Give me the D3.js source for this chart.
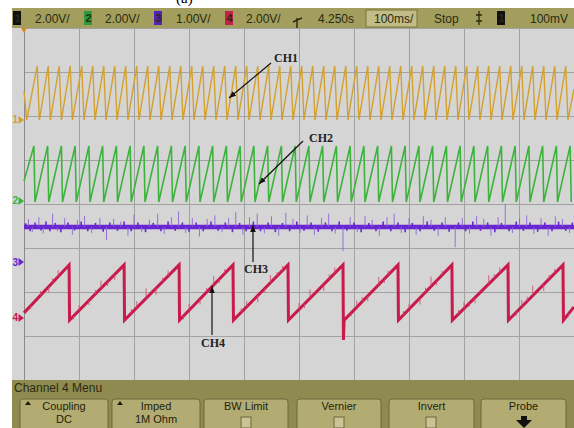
<html>
  <head>
    <script src="https://d3js.org/d3.v7.min.js"></script>
    <style>
      body { margin: 0; background: #ffffff; }
      .hdr { font-family: "Liberation Sans", Arial, sans-serif; font-size: 12px; fill: #2a2a10; }
      .btn { font-family: "Liberation Sans", Arial, sans-serif; font-size: 11px; fill: #1e1e08; text-anchor: middle; }
      .ann { font-family: "Liberation Serif", "DejaVu Serif", serif; font-size: 12px; font-weight: bold; fill: #222; }
    </style>
  </head>
  <body>
    <script>
        // ---- data ----
        // time in ms (100 ms/div, 10 div), levels in volts
        var ch1Peaks = [24, 44, 64, 84, 105, 125, 145, 165, 185, 205, 225, 245, 265, 285, 305, 325, 345, 365,
            385, 405, 425, 445, 465, 485, 505, 525, 545, 565, 585, 605, 625, 645, 665, 685, 705, 725, 745,
            765, 785, 805, 825, 845, 865, 885, 905, 925, 945, 965, 985];
        var ch1Levels = { low: 0.0, high: 2.45, start: 1.3, firstLow: 5, end: 1.4 };

        var ch2Peaks = [18, 43, 68, 93, 118, 143, 168, 193, 218, 243, 268, 293, 318, 343, 368, 393, 418, 443,
            468, 493, 518, 543, 568, 593, 618, 643, 668, 693, 718, 743, 768, 793, 818, 843, 868, 893, 918,
            943, 968, 993];
        var ch2Levels = { low: -0.05, high: 2.5, start: 0.9 };

        var ch3Level = 0.8;
        var ch3Spikes = [[8, 0.18], [15, -0.12], [27, 0.22], [35, -0.15], [52, 0.3], [61, -0.1], [74, 0.2],
            [88, -0.18], [97, 0.15], [110, 0.25], [123, -0.14], [138, 0.2], [150, -0.3], [163, 0.18],
            [176, 0.12], [189, -0.2], [200, 0.28], [214, -0.12], [228, 0.16], [243, 0.3], [255, -0.16],
            [268, 0.22], [281, 0.35], [294, -0.14], [306, 0.2], [319, -0.22], [333, 0.18], [347, 0.26],
            [360, -0.12], [372, 0.2], [385, 0.34], [398, -0.18], [410, 0.22], [424, 0.3], [437, -0.15],
            [450, 0.24], [463, -0.2], [476, 0.32], [489, 0.18], [502, -0.14], [515, 0.26], [528, -0.18],
            [541, 0.2], [554, 0.3], [566, -0.15], [580, -0.55], [593, 0.22], [606, -0.12], [620, 0.25],
            [633, 0.16], [646, -0.2], [660, 0.22], [673, 0.3], [686, -0.14], [700, 0.2], [713, -0.18],
            [726, 0.24], [740, 0.16], [753, -0.2], [766, 0.22], [784, -0.46], [797, 0.2], [810, -0.15],
            [823, 0.25], [836, 0.18], [849, -0.2], [862, 0.22], [875, 0.52], [888, -0.14], [901, 0.2],
            [914, 0.26], [927, -0.16], [940, 0.2], [953, -0.2], [966, 0.24], [979, 0.18], [992, -0.14]];
        // the thin fuzz that makes the ch3 band look ragged
        var ch3Fuzz = [[3, 0.08], [11, -0.1], [20, 0.1], [31, -0.08], [40, 0.12], [47, -0.1], [57, 0.09],
            [67, -0.12], [80, 0.1], [92, -0.08], [104, 0.12], [116, -0.1], [130, 0.09], [144, -0.11],
            [156, 0.1], [170, -0.09], [182, 0.12], [195, -0.1], [207, 0.1], [221, -0.12], [235, 0.09],
            [249, -0.1], [262, 0.12], [275, -0.09], [288, 0.1], [300, -0.11], [313, 0.1], [326, -0.1],
            [340, 0.12], [353, -0.09], [366, 0.1], [379, -0.12], [392, 0.09], [404, -0.1], [417, 0.12],
            [430, -0.1], [444, 0.1], [457, -0.12], [470, 0.09], [483, -0.1], [496, 0.12], [509, -0.09],
            [522, 0.1], [535, -0.11], [548, 0.1], [560, -0.1], [573, 0.12], [587, -0.09], [600, 0.1],
            [613, -0.12], [627, 0.09], [640, -0.1], [653, 0.12], [667, -0.1], [680, 0.1], [693, -0.12],
            [706, 0.09], [720, -0.1], [733, 0.12], [746, -0.09], [760, 0.1], [773, -0.11], [790, 0.1],
            [803, -0.1], [816, 0.12], [830, -0.09], [843, 0.1], [856, -0.12], [868, 0.09], [882, -0.1],
            [895, 0.12], [908, -0.09], [920, 0.1], [934, -0.11], [947, 0.1], [960, -0.1], [972, 0.12],
            [985, -0.09], [997, 0.1]];

        var ch4Drops = [82, 182, 282, 380, 480, 580, 680, 778, 880, 980];
        var ch4Lows = [-0.1, -0.1, -0.1, -0.1, -0.1, -1.0, -0.1, -0.1, -0.1, -0.1];
        var ch4Levels = { high: 2.41, start: 0.23, end: 0.5 };
        var ch4Spikes = [[30, 0.2], [45, -0.25], [62, 0.3], [100, 0.25], [118, -0.2], [140, 0.35], [165, -0.25],
            [205, 0.3], [222, 0.45], [240, -0.3], [262, 0.25], [300, 0.3], [320, -0.25], [345, 0.4], [365, 0.2],
            [405, 0.25], [425, -0.3], [448, 0.35], [470, 0.2], [500, 0.3], [520, 0.4], [545, -0.3], [565, 0.25],
            [605, 0.3], [625, -0.25], [645, 0.35], [662, 0.2], [700, 0.25], [720, -0.3], [740, 0.45], [760, 0.2],
            [800, 0.3], [820, -0.25], [845, 0.4], [865, 0.25], [905, 0.3], [925, 0.45], [945, -0.3], [965, 0.2],
            [12, -0.15], [52, 0.18], [90, -0.15], [130, 0.18], [152, -0.2], [195, 0.2], [252, 0.18], [290, -0.15],
            [332, 0.2], [355, -0.18], [395, 0.18], [438, -0.2], [460, 0.18], [510, -0.18], [555, 0.2],
            [595, -0.15], [615, 0.2], [655, -0.18], [690, 0.18], [730, 0.2], [750, -0.2], [790, 0.18],
            [810, -0.15], [855, 0.2], [895, -0.18], [915, 0.2], [955, 0.18], [990, -0.15]];

        // channel settings: volts per div and ground offset in divisions
        var channels = [
            { id: "1", vdiv: 2, offset: 1.91, color: "#d4a02e", badge: "#111111", badgeText: "#e6c33a", scale: "2.00V/" },
            { id: "2", vdiv: 2, offset: 0.07, color: "#3cb43c", badge: "#2f9a3a", badgeText: "#101010", scale: "2.00V/" },
            { id: "3", vdiv: 1, offset: -1.32, color: "#6a25d2", badge: "#5422b4", badgeText: "#101010", scale: "1.00V/" },
            { id: "4", vdiv: 2, offset: -2.59, color: "#c81a4c", badge: "#c4204e", badgeText: "#101010", scale: "2.00V/" }
        ];

        var menuButtons = [["Coupling", "DC"], ["Imped", "1M Ohm"], ["BW Limit", ""], ["Vernier", ""], ["Invert", ""], ["Probe", ""]];

        var width = 574, height = 428;
        var svg = d3.select("body").append("svg")
            .attr("width", width)
            .attr("height", height);

        var x = d3.scaleLinear().domain([0, 1000]).range([24, 574]);
        var y = d3.scaleLinear().domain([-4, 4]).range([380, 28]);

        function yv(ch, v) { return y(v / ch.vdiv + ch.offset); }

        // caption remnant at the very top
        svg.append("text").attr("x", 176).attr("y", 3)
            .style("font-family", "Liberation Serif, serif").style("font-size", "15px").text("(a)");

        // screen
        svg.append("rect").attr("x", 12).attr("y", 28).attr("width", 562).attr("height", 352).attr("fill", "#d5d5d5");

        var grid = svg.append("g").attr("stroke", "#a2a2a2").attr("stroke-width", 1);
        grid.selectAll("line.v").data(d3.range(0, 1001, 100)).enter().append("line")
            .attr("x1", function (d) { return Math.round(x(d)) + 0.5; })
            .attr("x2", function (d) { return Math.round(x(d)) + 0.5; })
            .attr("y1", 28).attr("y2", 380);
        grid.selectAll("line.h").data(d3.range(-4, 5)).enter().append("line")
            .attr("y1", function (d) { return Math.round(y(d)) + 0.5; })
            .attr("y2", function (d) { return Math.round(y(d)) + 0.5; })
            .attr("x1", 24).attr("x2", 574);
        svg.append("line").attr("x1", 24.5).attr("x2", 24.5).attr("y1", 28).attr("y2", 380)
            .attr("stroke", "#8a8a8a");

        // ---- traces ----
        var line = d3.line().x(function (d) { return x(d[0]); });

        function sawVerts(peaks, lv, fall) {
            var v = [[0, lv.start]];
            if (lv.firstLow) v.push([lv.firstLow, lv.low]);
            peaks.forEach(function (p) {
                v.push([p, lv.high]);
                v.push([Math.min(p + fall, 1000), lv.low]);
            });
            return v;
        }

        function interp(verts, t) {
            var i = d3.bisector(function (d) { return d[0]; }).left(verts, t);
            if (i <= 0) return verts[0][1];
            if (i >= verts.length) return verts[verts.length - 1][1];
            var a = verts[i - 1], b = verts[i];
            return a[1] + (b[1] - a[1]) * (t - a[0]) / (b[0] - a[0]);
        }

        var ch1 = channels[0], ch2 = channels[1], ch3 = channels[2], ch4 = channels[3];

        var v1 = sawVerts(ch1Peaks, ch1Levels, 4);
        v1.push([1000, ch1Levels.end]);
        svg.append("path").attr("d", line.y(function (d) { return yv(ch1, d[1]); })(v1))
            .attr("fill", "none").attr("stroke", ch1.color).attr("stroke-width", 1.4);

        var v2 = sawVerts(ch2Peaks, ch2Levels, 2);
        svg.append("path").attr("d", line.y(function (d) { return yv(ch2, d[1]); })(v2))
            .attr("fill", "none").attr("stroke", ch2.color).attr("stroke-width", 1.6);

        // ch3: flat noisy band
        svg.append("line").attr("x1", x(0)).attr("x2", x(1000))
            .attr("y1", yv(ch3, ch3Level)).attr("y2", yv(ch3, ch3Level))
            .attr("stroke", ch3.color).attr("stroke-width", 4.5);
        svg.append("g").selectAll("line").data(ch3Fuzz).enter().append("line")
            .attr("x1", function (d) { return x(d[0]); }).attr("x2", function (d) { return x(d[0]); })
            .attr("y1", yv(ch3, ch3Level))
            .attr("y2", function (d) { return yv(ch3, ch3Level + d[1]); })
            .attr("stroke", ch3.color).attr("stroke-width", 1.6);
        svg.append("g").selectAll("line").data(ch3Spikes).enter().append("line")
            .attr("x1", function (d) { return x(d[0]); }).attr("x2", function (d) { return x(d[0]); })
            .attr("y1", yv(ch3, ch3Level))
            .attr("y2", function (d) { return yv(ch3, ch3Level + d[1]); })
            .attr("stroke", "#8a60d8").attr("stroke-width", 1).attr("opacity", 0.85);

        // ch4: slow sawtooth
        var v4 = [[0, ch4Levels.start]];
        ch4Drops.forEach(function (t, i) {
            v4.push([t, ch4Levels.high]);
            v4.push([t + 0.8, ch4Lows[i]]);
            if (ch4Lows[i] < -0.5) v4.push([t + 2, -0.1]);
        });
        v4.push([1000, ch4Levels.end]);
        svg.append("path").attr("d", line.y(function (d) { return yv(ch4, d[1]); })(v4))
            .attr("fill", "none").attr("stroke", ch4.color).attr("stroke-width", 3);
        svg.append("g").selectAll("line").data(ch4Spikes).enter().append("line")
            .attr("x1", function (d) { return x(d[0]); }).attr("x2", function (d) { return x(d[0]); })
            .attr("y1", function (d) { return yv(ch4, interp(v4, d[0])); })
            .attr("y2", function (d) { return yv(ch4, interp(v4, d[0]) + d[1]); })
            .attr("stroke", "#d04a74").attr("stroke-width", 1).attr("opacity", 0.85);

        // ground markers on the left strip
        channels.forEach(function (ch) {
            var gy = yv(ch, 0);
            svg.append("text").attr("x", 12.5).attr("y", gy + 3.5)
                .style("font-family", "Liberation Sans, sans-serif").style("font-size", "10px")
                .style("font-weight", "bold").attr("fill", ch.color).text(ch.id);
            svg.append("path").attr("d", "M18.5," + (gy - 4) + "L24," + gy + "L18.5," + (gy + 4) + "Z")
                .attr("fill", ch.color);
        });
        // trigger position marker
        svg.append("path").attr("d", "M21,28L27,28L24,33Z").attr("fill", "#d88a20");

        // ---- annotations ----
        var defs = svg.append("defs");
        defs.append("marker").attr("id", "arrow").attr("viewBox", "0 -5 10 10")
            .attr("refX", 10).attr("refY", 0).attr("markerWidth", 7).attr("markerHeight", 7)
            .attr("orient", "auto").attr("markerUnits", "userSpaceOnUse")
            .append("path").attr("d", "M0,-4L10,0L0,4Z").attr("fill", "#111");

        var notes = [
            { label: "CH1", tx: 274, ty: 62, x1: 271, y1: 63, x2: 229, y2: 98 },
            { label: "CH2", tx: 309, ty: 142, x1: 303, y1: 141, x2: 259, y2: 184 },
            { label: "CH3", tx: 244, ty: 273, x1: 253, y1: 262, x2: 253, y2: 225 },
            { label: "CH4", tx: 201, ty: 347, x1: 212, y1: 335, x2: 212, y2: 286 }
        ];
        var ann = svg.append("g");
        ann.selectAll("line").data(notes).enter().append("line")
            .attr("x1", function (d) { return d.x1; }).attr("y1", function (d) { return d.y1; })
            .attr("x2", function (d) { return d.x2; }).attr("y2", function (d) { return d.y2; })
            .attr("stroke", "#111").attr("stroke-width", 1.2).attr("marker-end", "url(#arrow)");
        ann.selectAll("text").data(notes).enter().append("text").attr("class", "ann")
            .attr("x", function (d) { return d.tx; }).attr("y", function (d) { return d.ty; })
            .text(function (d) { return d.label; });

        // ---- header bar ----
        svg.append("rect").attr("x", 12).attr("y", 8).attr("width", 562).attr("height", 20).attr("fill", "#a39e5e");
        var badgeX = [13, 84, 154, 225], scaleX = [35, 105, 176, 246];
        channels.forEach(function (ch, i) {
            svg.append("rect").attr("x", badgeX[i]).attr("y", 11).attr("width", 8).attr("height", 14).attr("fill", ch.badge);
            svg.append("text").attr("class", "hdr").attr("x", badgeX[i] + 1.5).attr("y", 22)
                .style("font-size", "11px").style("font-weight", "bold").attr("fill", ch.badgeText).text(ch.id);
            svg.append("text").attr("class", "hdr").attr("x", scaleX[i]).attr("y", 23).text(ch.scale);
        });
        // trigger delay icon
        svg.append("path").attr("d", "M293,22L297,20L302,18M297,18L297,28")
            .attr("stroke", "#2a2a10").attr("stroke-width", 1.4).attr("fill", "none");
        svg.append("text").attr("class", "hdr").attr("x", 318).attr("y", 23).text("4.250s");
        svg.append("rect").attr("x", 366).attr("y", 10).attr("width", 51).attr("height", 17)
            .attr("fill", "#c1bc88").attr("stroke", "#7a763f");
        svg.append("text").attr("class", "hdr").attr("x", 374).attr("y", 23).text("100ms/");
        svg.append("text").attr("class", "hdr").attr("x", 434).attr("y", 23).text("Stop");
        svg.append("path").attr("d", "M479,11L479,25M476,15L482,15M476,21L482,21")
            .attr("stroke", "#2a2a10").attr("stroke-width", 1.3);
        svg.append("rect").attr("x", 497).attr("y", 11).attr("width", 8).attr("height", 14).attr("fill", "#111");
        svg.append("text").attr("class", "hdr").attr("x", 498.5).attr("y", 22)
            .style("font-size", "11px").style("font-weight", "bold").attr("fill", "#e6e6e6").text("1");
        svg.append("text").attr("class", "hdr").attr("x", 530).attr("y", 23).text("100mV");

        // ---- soft key menu ----
        svg.append("rect").attr("x", 12).attr("y", 380).attr("width", 562).attr("height", 48).attr("fill", "#8f8a4f");
        svg.append("text").attr("class", "hdr").attr("x", 14).attr("y", 392).attr("fill", "#1a1a06").text("Channel 4 Menu");
        var bx = [20, 112, 204, 297, 389, 481], bw = [88, 88, 84, 84, 85, 85];
        menuButtons.forEach(function (b, i) {
            var cx = bx[i] + bw[i] / 2;
            svg.append("rect").attr("x", bx[i]).attr("y", 399).attr("width", bw[i]).attr("height", 34).attr("rx", 3)
                .attr("fill", "#b2ac73").attr("stroke", "#6d6938");
            svg.append("text").attr("class", "btn").attr("x", cx).attr("y", 410).text(b[0]);
            if (b[1]) svg.append("text").attr("class", "btn").attr("x", cx).attr("y", 423).text(b[1]);
        });
        // little up-arrows on the two list keys
        [25, 117].forEach(function (px) {
            svg.append("path").attr("d", "M" + px + ",405L" + (px + 3) + ",401L" + (px + 6) + ",405Z").attr("fill", "#1e1e08");
        });
        // check boxes
        [246, 339, 431].forEach(function (px) {
            svg.append("rect").attr("x", px - 5).attr("y", 417).attr("width", 10).attr("height", 11)
                .attr("fill", "#c9c396").attr("stroke", "#6d6938");
        });
        // probe arrow
        svg.append("path").attr("d", "M521,416L527,416L527,420L532,420L524,428L516,420L521,420Z").attr("fill", "#111");
    </script>
  </body>
</html>
